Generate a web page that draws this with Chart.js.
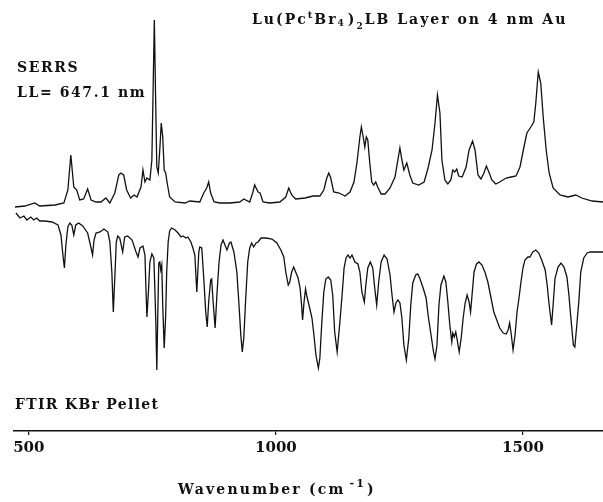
<!DOCTYPE html>
<html>
<head>
<meta charset="utf-8">
<script src="https://cdn.jsdelivr.net/npm/chart.js@4.4.1/dist/chart.umd.min.js"></script>
<style>
  html, body { margin: 0; padding: 0; background: #fff; }
  canvas { display: block; }
</style>
</head>
<body>
<canvas id="spectra" width="603" height="502"></canvas>
<script>
// =========================================================
// DATA (intensities in arbitrary offset units)
// =========================================================

const serrsWavenumbers = [
    472, 492, 512, 522, 553, 571, 579, 585, 591, 597, 603, 611, 619, 626, 636, 646, 656, 664,
    674, 682, 686, 692, 698, 706, 713, 719, 727, 731, 735, 739, 745, 749, 752, 754, 757, 759,
    762, 765, 768, 771, 774, 777, 780, 785, 796, 816, 826, 846, 854, 860, 864, 868, 875, 887,
    907, 927, 935, 947, 953, 957, 964, 968, 974, 988, 1008, 1020, 1026, 1032, 1040, 1059, 1075,
    1089, 1097, 1103, 1107, 1111, 1117, 1128, 1140, 1150, 1158, 1164, 1170, 1173, 1176, 1180,
    1183, 1186, 1190, 1194, 1198, 1202, 1206, 1213, 1221, 1231, 1241, 1251, 1255, 1259, 1265,
    1271, 1277, 1289, 1300, 1308, 1316, 1322, 1327, 1332, 1336, 1342, 1348, 1354, 1358, 1362,
    1366, 1370, 1377, 1385, 1391, 1398, 1403, 1409, 1415, 1421, 1426, 1431, 1437, 1445, 1453,
    1466, 1476, 1486, 1494, 1502, 1508, 1516, 1522, 1526, 1531, 1536, 1541, 1547, 1553, 1561,
    1575, 1591, 1607, 1619, 1640, 1662
];

const serrsIntensity = [
    224, 225, 228, 225, 226, 228, 241, 276, 244, 241, 231, 232, 242, 231, 229, 229, 233, 228,
    238, 256, 258, 256, 241, 233, 236, 234, 244, 261, 249, 253, 251, 271, 354, 411, 321, 264,
    258, 281, 308, 294, 261, 258, 248, 234, 229, 228, 230, 229, 238, 243, 249, 238, 229, 228,
    228, 229, 232, 229, 238, 246, 239, 238, 229, 228, 229, 234, 243, 236, 232, 233, 235,
    235, 241, 253, 258, 253, 239, 238, 235, 239, 249, 268, 294, 304, 296, 284,
    294, 291, 268, 249, 246, 249, 244, 237, 237, 243, 254, 283, 271, 261, 268,
    256, 248, 246, 249, 263, 281, 308, 336, 318, 271, 251, 247, 251, 261,
    259, 262, 255, 254, 264, 281, 290, 281, 256, 252, 258, 265, 259, 251, 247, 249,
    253, 254, 255, 264, 284, 298, 304, 309, 328, 359, 348, 314, 281, 258, 243,
    236, 234, 236, 233, 230, 229
];

const ftirWavenumbers = [
    474, 482, 490, 496, 504, 510, 516, 522, 532, 547, 559, 565, 569, 572, 575, 579, 583, 587,
    591, 595, 601, 609, 619, 626, 629, 632, 636, 644, 652, 660, 664, 668, 671, 674, 677, 680,
    684, 690, 694, 700, 709, 717, 721, 725, 731, 735, 737, 739, 742, 745, 749, 753, 755, 757,
    759, 761, 763, 765, 767, 769, 771, 774, 777, 779, 782, 785, 789, 796, 802, 808, 812, 818,
    822, 828, 832, 836, 840, 844, 846, 850, 854, 858, 861, 864, 868, 870, 873, 877, 881, 885,
    889, 893, 897, 901, 906, 909, 915, 921, 925, 929, 932, 935, 939, 943, 947, 951, 955, 960,
    964, 970, 980, 992, 1002, 1010, 1016, 1020, 1025, 1028, 1032, 1036, 1040, 1045, 1049, 1052,
    1054, 1057, 1060, 1063, 1067, 1073, 1077, 1081, 1086, 1089, 1093, 1097, 1101, 1106, 1111,
    1115, 1119, 1124, 1129, 1134, 1138, 1142, 1146, 1150, 1154, 1160, 1166, 1170, 1174, 1179,
    1182, 1186, 1191, 1196, 1200, 1204, 1208, 1213, 1219, 1225, 1231, 1235, 1239, 1243, 1247,
    1251, 1255, 1259, 1264, 1269, 1273, 1277, 1283, 1287, 1291, 1298, 1304, 1308, 1314, 1319,
    1322, 1326, 1330, 1334, 1340, 1344, 1348, 1352, 1356, 1358, 1361, 1364, 1367, 1371, 1375,
    1379, 1383, 1387, 1391, 1394, 1397, 1401, 1406, 1411, 1417, 1423, 1429, 1435, 1441, 1447,
    1453, 1460, 1466, 1470, 1473, 1476, 1480, 1484, 1488, 1492, 1496, 1500, 1504, 1510, 1514,
    1520, 1526, 1532, 1538, 1545, 1549, 1553, 1558, 1561, 1565, 1571, 1577, 1583, 1589, 1593,
    1597, 1602, 1605, 1609, 1613, 1617, 1623, 1630, 1636, 1648, 1662
];

const ftirIntensity = [
    218, 213, 215, 211, 214, 211, 213, 210, 210, 209, 206, 196, 176, 163, 186, 204, 208, 206,
    196, 206, 208, 205, 198, 183, 176, 191, 198, 199, 202, 199, 189, 159, 119, 153, 189, 195,
    193, 179, 194, 195, 191, 179, 174, 183, 185, 176, 143, 114, 139, 169, 177, 173, 143, 109,
    61, 116, 168, 169, 161, 166, 126, 83, 116, 159, 189, 200, 203, 201, 198, 194, 195, 193,
    194, 189, 183, 176, 139, 179, 184, 183, 153, 119, 104, 129, 151, 152, 129, 103, 139, 169,
    186, 191, 186, 181, 188, 189, 179, 159, 129, 96, 79, 93, 133, 169, 183, 188, 184, 188,
    189, 193, 193, 192, 188, 181, 174, 159, 146, 149, 159, 164, 159, 153, 143, 126,
    111, 129, 142, 134, 126, 113, 96, 76, 63, 73, 109, 139, 152, 154, 151,
    136, 99, 79, 106, 136, 163, 173, 176, 173, 176, 169, 167, 159, 139, 129,
    146, 163, 169, 163, 143, 126, 149, 169, 176, 172, 156, 136, 119, 128, 131,
    128, 113, 86, 71, 93, 126, 148, 156, 157, 153, 143, 133, 116, 96, 79,
    72, 86, 126, 146, 155, 149, 129, 106, 89, 98, 94, 99, 91, 79, 93,
    113, 128, 136, 129, 119, 136, 159, 167, 169, 166, 159, 149, 134, 119, 111,
    103, 98, 97, 101, 108, 98, 81, 96, 119, 133, 149, 163, 171, 174, 174,
    179, 181, 178, 171, 161, 146, 126, 106, 126, 153, 164, 168, 164, 154, 136,
    113, 86, 84, 106, 129, 159, 173, 178, 179, 179, 179
];

const xTickValues = [500, 1000, 1500];

const serrsLabel = "SERRS";
const laserLabel = "LL= 647.1 nm";
const ftirLabel = "FTIR KBr Pellet";

// =========================================================
// TEXT HELPERS
// =========================================================

const textFont = "'DejaVu Serif', serif";

function drawRichText(ctx, parts, x, y, spacing) {
    let cursor = x;
    ctx.letterSpacing = spacing + "px";
    parts.forEach(function (part) {
        const size = part.size || 14;
        ctx.font = "bold " + size + "px " + textFont;
        ctx.fillText(part.text, cursor, y + (part.shift || 0));
        cursor += ctx.measureText(part.text).width + (part.gap || 0);
    });
}

const annotationPlugin = {
    id: "spectraText",
    afterDraw(chart) {
        const ctx = chart.ctx;
        ctx.save();
        ctx.fillStyle = "#111";
        ctx.textBaseline = "middle";
        ctx.textAlign = "left";

        drawRichText(ctx, [
            { text: "Lu(Pc" },
            { text: "t", size: 10, shift: -5 },
            { text: "Br" },
            { text: "4", size: 9, shift: 4, gap: 2 },
            { text: ")" },
            { text: "2", size: 9, shift: 7 },
            { text: "LB Layer on 4 nm Au" }
        ], 252, 20, 2);

        drawRichText(ctx, [{ text: serrsLabel }], 17, 68, 1.6);
        drawRichText(ctx, [{ text: laserLabel }], 17, 93, 1.6);
        drawRichText(ctx, [{ text: ftirLabel }], 15, 405, 1.3);

        drawRichText(ctx, [
            { text: "Wavenumber (cm", gap: 4 },
            { text: "-1", size: 11, shift: -6, gap: 1 },
            { text: ")" }
        ], 178, 490, 2.2);

        ctx.restore();
    }
};

// =========================================================
// CHART
// =========================================================

const spectraCanvas = document.getElementById("spectra");

new Chart(spectraCanvas, {
    type: "line",
    data: {
        datasets: [
            {
                label: "SERRS",
                data: serrsWavenumbers.map((wn, i) => ({ x: wn, y: serrsIntensity[i] })),
                borderColor: "#111",
                borderWidth: 1.3,
                pointRadius: 0,
                tension: 0
            },
            {
                label: "FTIR",
                data: ftirWavenumbers.map((wn, i) => ({ x: wn, y: ftirIntensity[i] })),
                borderColor: "#111",
                borderWidth: 1.3,
                pointRadius: 0,
                tension: 0
            }
        ]
    },
    options: {
        responsive: false,
        animation: false,
        devicePixelRatio: 1,
        clip: false,
        layout: {
            padding: { left: 14, right: 0, top: 0, bottom: 0 }
        },
        plugins: {
            legend: { display: false },
            tooltip: { enabled: false }
        },
        scales: {
            x: {
                type: "linear",
                min: 470,
                max: 1662,
                afterFit(scale) {
                    scale.height = 71;
                },
                afterBuildTicks(scale) {
                    scale.ticks = xTickValues.map(v => ({ value: v }));
                },
                border: { display: true, color: "#111", width: 1.6 },
                grid: {
                    drawOnChartArea: false,
                    drawTicks: true,
                    tickLength: 4,
                    color: "#111",
                    lineWidth: 1.2
                },
                ticks: {
                    color: "#111",
                    padding: 4,
                    maxRotation: 0,
                    callback: value => String(value),
                    font: { family: textFont, size: 15, weight: "bold" }
                }
            },
            y: {
                display: false,
                min: 0,
                max: 431
            }
        }
    },
    plugins: [annotationPlugin]
});
</script>
</body>
</html>
